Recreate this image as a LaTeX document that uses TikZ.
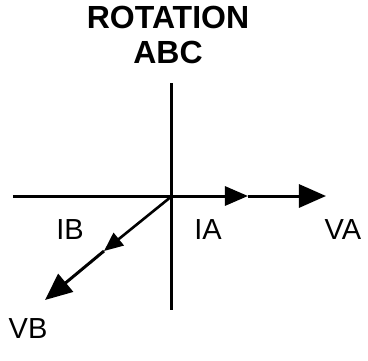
\documentclass[tikz,border=0pt]{standalone}
\usepackage{fontspec}
\setmainfont{Liberation Sans}
\usetikzlibrary{arrows.meta}
\tikzset{
  axis/.style  = {line width=3pt, line cap=butt},
  ar/.style    = {-{Triangle[length=27pt, width=23pt]}, line width=3pt},
  mar/.style   = {-{Triangle[length=23pt, width=19pt]}, line width=3pt},
  sar/.style   = {-{Triangle[length=19pt, width=16pt]}, line width=2.6pt},
  lbl/.style   = {anchor=base, inner sep=0pt, font=\fontsize{29}{29}\selectfont},
  ttl/.style   = {anchor=base, inner sep=0pt, font=\bfseries\fontsize{32}{32}\selectfont},
}

\begin{document}
\begin{tikzpicture}[x=1pt, y=-1pt]
  \useasboundingbox (0,0) rectangle (368,360);
  \node[ttl] (rot) at (168,28) {ROTATION};
  \node[ttl] (abc) at (168,63) {ABC};
  % axes
  \coordinate (o) at (172,196);
  \coordinate (north) at (172,83);
  \coordinate (south) at (172,310);
  \coordinate (west) at (13,196);
  \draw[axis] (north) -- (south);
  \draw[axis] (west) -- (o);
  % phasors
  \coordinate (ia) at (248,196);
  \coordinate (va) at (326,196);
  \coordinate (ib) at (104,251);
  \coordinate (vb) at (45,300);
  \draw[mar] (o) -- (ia); \draw[ar] (ia) -- (va);
  \draw[sar] (o) -- (ib); \draw[ar] (ib) -- (vb);
  \node[lbl] (lib) at (70,239) {IB};
  \node[lbl] (lia) at (208,239) {IA};
  \node[lbl] (lva) at (343,239) {VA};
  \node[lbl] (lvb) at (28,338) {VB};
\end{tikzpicture}
\end{document}
